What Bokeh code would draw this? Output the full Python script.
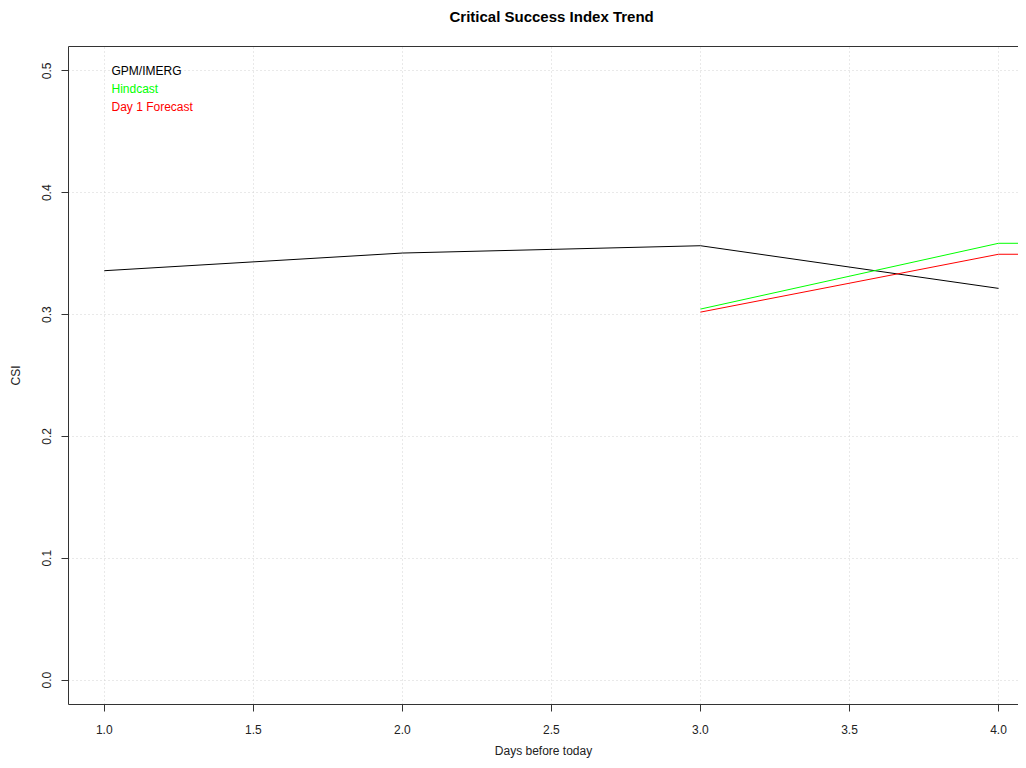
from bokeh.plotting import figure
from bokeh.models import (FixedTicker, PrintfTickFormatter, LinearAxis, Label,
                          Range1d, Title)
from bokeh.embed import file_html
from bokeh.resources import INLINE

# ---- data ----
gpm_days = [1, 2, 3, 4]
gpm_csi = [0.336, 0.3505, 0.3565, 0.3215]
hind_days = [3, 4, 5]
hind_csi = [0.3045, 0.3585, 0.3585]
fc_days = [3, 4, 5]
fc_csi = [0.302, 0.3495, 0.3495]

series_names = ["GPM/IMERG", "Hindcast", "Day 1 Forecast"]
series_colors = ["#000000", "#00FF00", "#FF0000"]

x_ticks = [1.0, 1.5, 2.0, 2.5, 3.0, 3.5, 4.0]
y_ticks = [0.0, 0.1, 0.2, 0.3, 0.4, 0.5]

title_text = "Critical Success Index Trend"

FONT = "Liberation Sans"

p = figure(width=1018, height=760, output_backend="svg", toolbar_location=None,
           x_range=Range1d(0.88, 4.067), y_range=Range1d(-0.02, 0.52),
           min_border_left=68, min_border_right=0, min_border_top=46,
           min_border_bottom=56)
p.outline_line_color = None
p.background_fill_color = "white"
p.border_fill_color = "white"

p.title = Title(text=title_text, align="left", offset=381, standoff=10,
                text_font=FONT, text_font_size="15px", text_font_style="bold",
                text_color="#000000")

for ax in (p.xaxis[0], p.yaxis[0]):
    ax.axis_line_color = "#333333"
    ax.axis_line_width = 1
    ax.major_tick_line_color = "#333333"
    ax.major_tick_out = 7
    ax.major_tick_in = 0
    ax.minor_tick_line_color = None
    ax.major_label_text_font = FONT
    ax.major_label_text_font_size = "12px"
    ax.major_label_text_color = "#222222"
    ax.axis_label_text_font = FONT
    ax.axis_label_text_font_size = "12px"
    ax.axis_label_text_font_style = "normal"
    ax.axis_label_text_color = "#222222"

p.xaxis.ticker = FixedTicker(ticks=x_ticks)
p.xaxis.formatter = PrintfTickFormatter(format="%.1f")
p.xaxis.axis_label = "Days before today"
p.xaxis.major_label_standoff = 13
p.xaxis.axis_label_standoff = 7

p.yaxis.ticker = FixedTicker(ticks=y_ticks)
p.yaxis.formatter = PrintfTickFormatter(format="%.1f")
p.yaxis.axis_label = "CSI"
p.yaxis.major_label_orientation = "vertical"
p.yaxis.major_label_standoff = 10
p.yaxis.axis_label_standoff = 17

# top border of the box (axis line only); its blank label just adds spacing
top = LinearAxis(ticker=FixedTicker(ticks=[]), major_label_text_font_size="0px",
                 axis_line_color="#333333", major_tick_line_color=None,
                 minor_tick_line_color=None, axis_label=" ",
                 axis_label_text_font_size="10px", axis_label_standoff=3,
                 axis_label_text_color="white")
p.add_layout(top, "above")

p.grid.grid_line_color = "#D3D3D3"
p.grid.grid_line_dash = "1 3"
p.grid.grid_line_width = 1

p.line(gpm_days, gpm_csi, line_color=series_colors[0], line_width=1)
p.line(hind_days, hind_csi, line_color=series_colors[1], line_width=1)
p.line(fc_days, fc_csi, line_color=series_colors[2], line_width=1)

for i, (name, col) in enumerate(zip(series_names, series_colors)):
    p.add_layout(Label(x=43, y=634 - 18 * i, x_units="screen", y_units="screen",
                       text=name, text_color=col, text_font=FONT,
                       text_font_size="12px", text_baseline="middle"))

open("out.html", "w").write(file_html(p, INLINE))
